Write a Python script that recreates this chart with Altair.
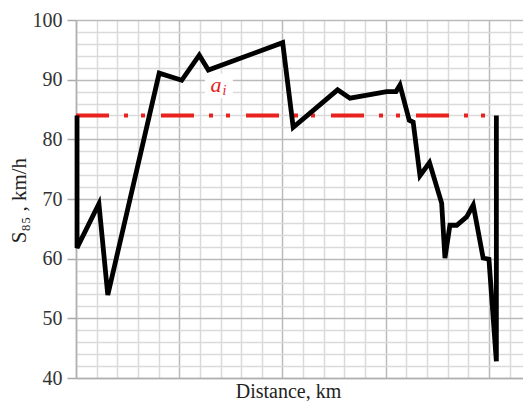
import altair as alt
import pandas as pd

# Main S85 profile (distance in grid units, speed in km/h)
dist = [0.05, 0.05, 1.11, 1.54, 4.03, 5.12, 5.97, 6.41, 10.01, 10.52, 12.67, 13.27,
        15.05, 15.50, 15.69, 16.14, 16.33, 16.66, 17.12, 17.71, 17.87, 18.11, 18.44,
        18.92, 19.24, 19.72, 20.0, 20.36, 20.36]
speed = [84, 61.8, 69.2, 53.9, 91.1, 89.9, 94.1, 91.6, 96.2, 82.0, 88.3, 86.9,
         88.0, 88.0, 89.1, 83.2, 82.9, 73.9, 76.1, 69.3, 60.1, 65.6, 65.6,
         67.0, 69.0, 60.1, 59.9, 42.8, 84]

# Reference level a_i
ref_x = [0, 20]
ref_y = [84, 84]

# Label
label_a_x, label_a_y = [6.78], [87.9]
label_i_x, label_i_y = [7.19], [87.4]
box_x = [6.25, 7.6]
box_y = [86.9, 91.0]

FONT = "Liberation Serif"

df_line = pd.DataFrame({"x": dist, "y": speed, "i": list(range(len(dist)))})
df_ref = pd.DataFrame({"x": ref_x, "y": ref_y})
df_box = pd.DataFrame({"x": [box_x[0]], "x2": [box_x[1]], "y": [box_y[0]], "y2": [box_y[1]]})
df_a = pd.DataFrame({"x": label_a_x, "y": label_a_y, "t": ["a"]})
df_i = pd.DataFrame({"x": label_i_x, "y": label_i_y, "t": ["i"]})

xaxis = alt.Axis(
    values=list(range(0, 23)), labels=False, ticks=False,
    title="Distance, km", titleFont=FONT, titleFontSize=20, titleFontWeight="normal",
    titleColor="#222", titleX=212, titleY=19, titleBaseline="alphabetic",
    gridColor={"condition": {"test": "datum.value % 5 === 0", "value": "#bababa"}, "value": "#dadada"},
    gridWidth=1.5, domainColor="#b0b0b0", domainWidth=1.5,
)
yaxis = alt.Axis(
    values=list(range(40, 101, 2)),
    labelExpr="datum.value % 10 === 0 ? datum.label : ''",
    labelOverlap=False, labelFont=FONT, labelFontSize=20, labelColor="#333",
    labelPadding=5, tickSize=9, tickColor="#aaaaaa", tickWidth=1.5,
    tickOpacity={"condition": {"test": "datum.value % 10 === 0", "value": 1}, "value": 0},
    gridColor={"condition": {"test": "datum.value % 10 === 0", "value": "#bababa"}, "value": "#dadada"},
    gridWidth=1.5, domainColor="#b0b0b0", domainWidth=1.5,
    title="S₈₅ , km/h", titleFont=FONT, titleFontSize=21, titleFontWeight="normal",
    titleColor="#222", titleX=-51, titleY=180, titleAngle=270, titleAlign="center",
    titleBaseline="alphabetic",
)

X = alt.X("x:Q", scale=alt.Scale(domain=[0, 21.65], nice=False, zero=False), axis=xaxis)
Y = alt.Y("y:Q", scale=alt.Scale(domain=[40, 100], nice=False, zero=False), axis=yaxis)

box = alt.Chart(df_box).mark_rect(color="white").encode(
    x=X, x2="x2:Q", y=Y, y2="y2:Q")

ref = alt.Chart(df_ref).mark_line(
    color="#e8221e", strokeWidth=4, strokeDash=[33, 15, 4, 13, 4, 16]
).encode(x=X, y=Y)

line = alt.Chart(df_line).mark_line(
    color="black", strokeWidth=4.8, strokeJoin="miter"
).encode(x=X, y=Y, order="i:Q")

ta = alt.Chart(df_a).mark_text(
    font=FONT, fontSize=22, fontStyle="italic", color="#e8221e",
    align="center", baseline="alphabetic"
).encode(x=X, y=Y, text="t:N")

ti = alt.Chart(df_i).mark_text(
    font=FONT, fontSize=14, fontStyle="italic", color="#e8221e",
    align="center", baseline="alphabetic"
).encode(x=X, y=Y, text="t:N")

chart = alt.layer(box, ref, line, ta, ti).properties(
    width=447, height=358,
    autosize=alt.AutoSizeParams(type="none"),
    padding={"left": 68, "top": 12, "right": 0, "bottom": 23},
).configure_view(stroke=None).configure(background="white")

chart.save("out.html", embed_options={"renderer": "svg", "actions": False})
